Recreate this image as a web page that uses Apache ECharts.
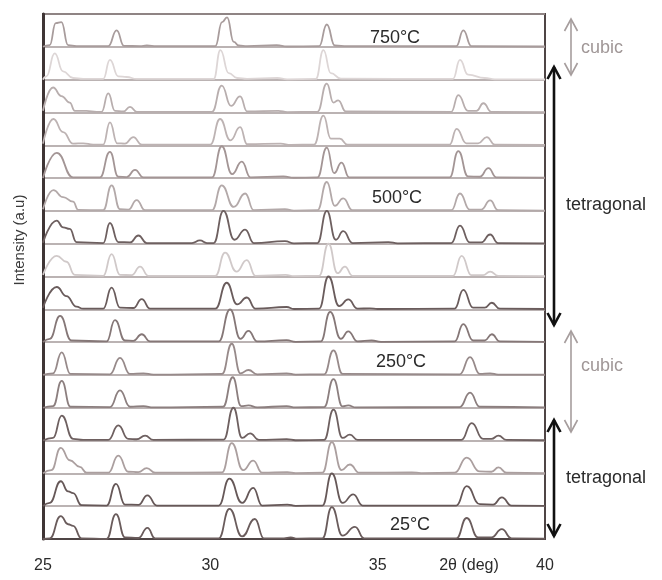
<!DOCTYPE html>
<html>
<head>
<meta charset="utf-8">
<script src="https://cdn.jsdelivr.net/npm/echarts@6/dist/echarts.min.js"></script>
<style>
  html, body { margin: 0; padding: 0; background: #fff; }
  #chart { width: 662px; height: 580px; }
</style>
</head>
<body>
<div id="chart"></div>
<script>
// x ticks (2theta, deg)
var xTicks = [25, 30, 35, 40];

// temperatures, top row first
var temps = [750, 700, 650, 600, 550, 500, 450, 400, 350, 300, 250, 200, 150, 100, 50, 25];

// line colour of each pattern (top to bottom)
var rowColors = ['#a89c9c', '#ddd6d6', '#b8aeae', '#bdb3b3', '#a39595', '#b3a9a9', '#6e6060', '#d0c9c9',
                 '#6a5c5c', '#857777', '#978a8a', '#8c7f7f', '#6e6060', '#ab9f9f', '#665858', '#6a5c5c'];

// patterns: [2theta, intensity in units of the row spacing]
var p750 = [[25,0],[25.2,0.05],[25.38,0.72],[25.55,0.75],[25.75,0.05],[26.0,0.02],[26.95,0.02],[27.2,0.5],[27.42,0.03],[27.9,0.02],[28.1,0.04],[28.4,0.02],[30.15,0.02],[30.35,0.75],[30.5,0.9],[30.7,0.15],[30.85,0.04],[31.1,0.02],[31.98,0.05],[32.3,0.01],[33.25,0.02],[33.48,0.68],[33.72,0.04],[34.1,0.02],[37.35,0.02],[37.56,0.5],[37.8,0.02],[40,0.01]];
var p700 = [[25,0],[25.1,0.1],[25.35,0.8],[25.6,0.25],[25.9,0.05],[26.2,0.02],[26.8,0.02],[27.0,0.6],[27.25,0.1],[27.5,0.08],[27.8,0.02],[30.1,0.02],[30.3,0.9],[30.55,0.2],[30.8,0.05],[31.1,0.02],[32.0,0.05],[32.3,0.01],[33.15,0.02],[33.38,0.9],[33.6,0.2],[33.9,0.03],[37.25,0.02],[37.46,0.6],[37.7,0.15],[38.2,0.05],[38.5,0.01],[40,0.01]];
var p650 = [[25,0.05],[25.3,0.76],[25.55,0.5],[25.8,0.3],[25.95,0.05],[26.3,0.05],[26.6,0.02],[26.75,0.02],[26.95,0.58],[27.15,0.05],[27.4,0.03],[27.6,0.17],[27.8,0.02],[30.05,0.02],[30.34,0.82],[30.62,0.2],[30.89,0.49],[31.1,0.03],[32.03,0.05],[32.3,0.01],[33.2,0.02],[33.48,0.88],[33.68,0.3],[33.82,0.37],[34.05,0.03],[37.2,0.02],[37.41,0.53],[37.7,0.05],[37.95,0.05],[38.16,0.28],[38.4,0.02],[40,0.01]];
var p600 = [[25,0.05],[25.31,0.8],[25.6,0.4],[25.9,0.05],[26.2,0.06],[26.5,0.02],[26.8,0.02],[27.0,0.7],[27.22,0.06],[27.45,0.05],[27.7,0.25],[27.95,0.02],[30.0,0.02],[30.29,0.8],[30.6,0.15],[30.89,0.55],[31.1,0.03],[32.1,0.05],[32.4,0.01],[33.1,0.02],[33.38,0.9],[33.6,0.2],[33.87,0.2],[34.1,0.02],[37.15,0.02],[37.36,0.5],[37.65,0.06],[38.0,0.06],[38.26,0.25],[38.5,0.02],[40,0.01]];
var p550 = [[25,0],[25.41,0.77],[25.9,0.02],[26.7,0.02],[27.0,0.8],[27.25,0.04],[27.5,0.03],[27.75,0.25],[28.0,0.02],[30.05,0.02],[30.34,0.97],[30.65,0.12],[30.94,0.5],[31.2,0.02],[32.18,0.05],[32.5,0.01],[33.2,0.02],[33.48,0.93],[33.7,0.15],[33.92,0.47],[34.15,0.02],[37.15,0.02],[37.41,0.82],[37.7,0.05],[38.05,0.04],[38.31,0.3],[38.55,0.02],[40,0.01]];
var p500 = [[25,0.05],[25.31,0.63],[25.6,0.42],[25.9,0.28],[26.05,0.03],[26.8,0.02],[27.05,0.78],[27.3,0.05],[27.55,0.04],[27.8,0.33],[28.05,0.02],[30.05,0.02],[30.34,0.78],[30.7,0.12],[31.04,0.53],[31.3,0.02],[32.23,0.05],[32.5,0.01],[33.2,0.02],[33.48,0.88],[33.72,0.15],[33.97,0.38],[34.25,0.02],[37.2,0.02],[37.46,0.53],[37.75,0.04],[38.1,0.04],[38.36,0.32],[38.6,0.02],[40,0.01]];
var p450 = [[25,0.03],[25.41,0.7],[25.6,0.5],[25.8,0.45],[26.0,0.05],[26.8,0.02],[27.0,0.63],[27.25,0.05],[27.6,0.04],[27.85,0.25],[28.1,0.02],[29.45,0.02],[29.69,0.1],[29.9,0.02],[30.1,0.02],[30.39,1.0],[30.72,0.12],[31.04,0.43],[31.3,0.02],[32.23,0.08],[32.5,0.01],[33.2,0.02],[33.48,1.0],[33.75,0.12],[33.97,0.38],[34.25,0.02],[35.32,0.05],[35.6,0.01],[37.2,0.02],[37.46,0.55],[37.75,0.04],[38.1,0.04],[38.36,0.28],[38.6,0.02],[40,0.01]];
var p400 = [[25,0.05],[25.41,0.63],[25.7,0.45],[25.95,0.05],[26.8,0.02],[27.05,0.68],[27.3,0.05],[27.65,0.04],[27.9,0.3],[28.15,0.02],[30.15,0.02],[30.44,0.73],[30.78,0.15],[31.09,0.5],[31.35,0.02],[32.25,0.05],[32.5,0.01],[33.25,0.02],[33.53,1.0],[33.8,0.1],[34.02,0.3],[34.25,0.02],[37.25,0.02],[37.51,0.63],[37.8,0.04],[38.15,0.04],[38.36,0.15],[38.6,0.02],[40,0.01]];
var p350 = [[25,0.05],[25.41,0.68],[25.7,0.4],[26.0,0.08],[26.2,0.02],[26.8,0.02],[27.05,0.66],[27.3,0.05],[27.7,0.04],[27.95,0.31],[28.2,0.02],[30.15,0.02],[30.49,0.81],[30.8,0.15],[31.09,0.36],[31.35,0.02],[32.28,0.07],[32.5,0.01],[33.25,0.02],[33.53,1.0],[33.85,0.1],[34.12,0.3],[34.4,0.02],[34.77,0.03],[35.0,0.01],[37.3,0.02],[37.56,0.59],[37.85,0.05],[38.2,0.05],[38.41,0.2],[38.65,0.02],[40,0.01]];
var p300 = [[25,0],[25.2,0.1],[25.51,0.8],[25.85,0.05],[26.9,0.02],[27.15,0.67],[27.45,0.05],[27.7,0.04],[27.95,0.24],[28.2,0.02],[30.25,0.02],[30.59,1.0],[30.9,0.1],[31.14,0.34],[31.4,0.02],[32.28,0.06],[32.55,0.01],[33.3,0.02],[33.58,0.92],[33.9,0.1],[34.12,0.33],[34.4,0.02],[34.82,0.05],[35.1,0.01],[37.3,0.02],[37.56,0.55],[37.85,0.05],[38.2,0.05],[38.41,0.24],[38.65,0.02],[40,0.01]];
var p250 = [[25,0],[25.3,0.05],[25.56,0.69],[25.82,0.03],[27.0,0.02],[27.3,0.52],[27.6,0.03],[28.0,0.05],[28.3,0.01],[30.35,0.03],[30.64,0.95],[30.9,0.05],[31.14,0.15],[31.4,0.02],[32.28,0.05],[32.55,0.01],[33.4,0.02],[33.68,0.75],[33.95,0.03],[37.45,0.02],[37.76,0.54],[38.05,0.03],[38.36,0.05],[38.6,0.01],[40,0.01]];
var p200 = [[25,0],[25.3,0.05],[25.56,0.82],[25.82,0.03],[27.0,0.02],[27.3,0.53],[27.6,0.03],[28.0,0.05],[28.3,0.01],[30.38,0.03],[30.67,0.93],[30.92,0.05],[31.14,0.07],[31.4,0.01],[32.28,0.05],[32.55,0.01],[33.4,0.02],[33.68,0.87],[33.95,0.04],[34.12,0.07],[34.35,0.01],[37.45,0.02],[37.76,0.46],[38.05,0.03],[40,0.01]];
var p150 = [[25,0],[25.3,0.08],[25.56,0.76],[25.9,0.05],[26.2,0.02],[26.95,0.02],[27.25,0.46],[27.55,0.05],[27.8,0.04],[28.05,0.15],[28.3,0.02],[30.4,0.03],[30.69,1.0],[30.95,0.08],[31.19,0.22],[31.45,0.02],[32.28,0.04],[32.55,0.01],[33.4,0.02],[33.68,0.94],[33.95,0.08],[34.17,0.18],[34.4,0.02],[37.5,0.02],[37.81,0.53],[38.15,0.05],[38.4,0.05],[38.61,0.15],[38.85,0.02],[40,0.01]];
var p100 = [[25,0],[25.25,0.1],[25.53,0.78],[25.8,0.4],[26.1,0.2],[26.3,0.02],[26.95,0.02],[27.25,0.54],[27.55,0.05],[27.85,0.04],[28.1,0.16],[28.35,0.02],[30.35,0.03],[30.64,0.92],[30.98,0.1],[31.28,0.39],[31.55,0.02],[32.3,0.04],[32.55,0.01],[33.35,0.02],[33.63,0.95],[33.92,0.1],[34.17,0.27],[34.45,0.02],[36.02,0.03],[36.3,0.01],[37.3,0.02],[37.66,0.48],[38.05,0.06],[38.4,0.05],[38.61,0.18],[38.85,0.02],[40,0.01]];
var p50 = [[25,0],[25.2,0.1],[25.53,0.76],[25.75,0.45],[25.9,0.4],[26.15,0.03],[26.9,0.02],[27.18,0.68],[27.45,0.05],[27.85,0.04],[28.12,0.33],[28.4,0.02],[30.25,0.02],[30.57,0.84],[30.95,0.1],[31.28,0.56],[31.55,0.02],[32.3,0.05],[32.55,0.01],[33.35,0.02],[33.63,1.0],[33.95,0.1],[34.27,0.36],[34.55,0.02],[37.35,0.02],[37.66,0.61],[38.05,0.06],[38.45,0.05],[38.71,0.27],[39.0,0.02],[40,0.01]];
var p25 = [[25,0],[25.2,0.02],[25.53,0.7],[25.75,0.45],[25.9,0.4],[26.15,0.02],[26.9,0],[27.18,0.76],[27.45,0.05],[27.85,0.03],[28.12,0.34],[28.35,0.02],[30.25,0.02],[30.57,0.92],[30.95,0.08],[31.33,0.61],[31.6,0.02],[32.2,0.02],[32.4,0.05],[32.6,0.01],[33.35,0.02],[33.63,0.97],[33.95,0.1],[34.32,0.37],[34.6,0.02],[37.35,0.02],[37.66,0.64],[38.0,0.05],[38.4,0.05],[38.71,0.3],[39.0,0.02],[40,0.01]];

var patterns = [p750, p700, p650, p600, p550, p500, p450, p400, p350, p300, p250, p200, p150, p100, p50, p25];

var chart = echarts.init(document.getElementById('chart'));
var nRows = patterns.length;

// each pattern sits on its own baseline, top row highest
var series = patterns.map(function(p, i){
	var base = nRows - 1 - i;
	return {
		name: temps[i] + '°C',
		type: 'line',
		data: p.map(function(pt){ return [pt[0], pt[1] + base]; }),
		showSymbol: false,
		smooth: 0.5,
		smoothMonotone: 'x',
		silent: true,
		lineStyle: { color: rowColors[i], width: 1.8 },
		z: 3
	};
});

var txt = '#2b2b2b';
var grey = '#a69d9d';
var font = 'Liberation Sans, Arial, sans-serif';

function arrow(x, y1, y2, color, w){
	var a = 6.5, h = 12;
	return [
		{ type: 'line', shape: { x1: x, y1: y1, x2: x, y2: y2 }, style: { stroke: color, lineWidth: w } },
		{ type: 'polyline', shape: { points: [[x - a, y1 + h], [x, y1], [x + a, y1 + h]] }, style: { stroke: color, lineWidth: w, fill: null } },
		{ type: 'polyline', shape: { points: [[x - a, y2 - h], [x, y2], [x + a, y2 - h]] }, style: { stroke: color, lineWidth: w, fill: null } }
	];
}

function label(x, y, s, color, align){
	return { type: 'text', x: x, y: y, style: { text: s, fill: color, font: '18px ' + font, align: align || 'left', verticalAlign: 'middle' } };
}

var graphics = []
	.concat(arrow(571, 19, 75, grey, 1.6))
	.concat(arrow(554, 67, 325, '#111', 2.6))
	.concat(arrow(571, 331, 432, grey, 1.6))
	.concat(arrow(554, 420, 536, '#111', 2.6))
	.concat([
		label(581, 48, 'cubic', '#a09797'),
		label(566, 205, 'tetragonal', txt),
		label(581, 366, 'cubic', '#a09797'),
		label(566, 478, 'tetragonal', txt),
		label(395, 38, '750°C', txt, 'center'),
		label(397, 198, '500°C', txt, 'center'),
		label(401, 362, '250°C', txt, 'center'),
		label(410, 525, '25°C', txt, 'center'),
		{ type: 'text', x: 469, y: 566, style: { text: '2θ (deg)', fill: txt, font: '16px ' + font, align: 'center', verticalAlign: 'middle' } },
		{ type: 'text', x: 20, y: 240, rotation: Math.PI / 2, style: { text: 'Intensity (a.u)', fill: '#3a3a3a', font: '15px ' + font, align: 'center', verticalAlign: 'middle' } }
	]);

chart.setOption({
	animation: false,
	backgroundColor: '#fff',
	grid: { left: 43, right: 117, top: 14, bottom: 41, show: true, borderColor: '#4f4545', borderWidth: 2, backgroundColor: 'transparent' },
	xAxis: {
		type: 'value', min: xTicks[0], max: xTicks[xTicks.length - 1], interval: 5,
		axisLine: { show: true, lineStyle: { color: '#4f4545', width: 2 } },
		axisTick: { show: false },
		splitLine: { show: false },
		axisLabel: { margin: 19, color: txt, fontSize: 16, fontFamily: font,
			formatter: function(v){ return xTicks.indexOf(v) >= 0 ? String(v) : ''; } }
	},
	yAxis: {
		type: 'value', min: 0, max: nRows, interval: 1,
		axisLine: { show: true, lineStyle: { color: '#3f3535', width: 3 } },
		axisTick: { show: false },
		axisLabel: { show: false },
		splitLine: { show: true, lineStyle: { color: '#a59a9a', width: 1.6 } }
	},
	series: series,
	graphic: graphics
});
</script>
</body>
</html>
